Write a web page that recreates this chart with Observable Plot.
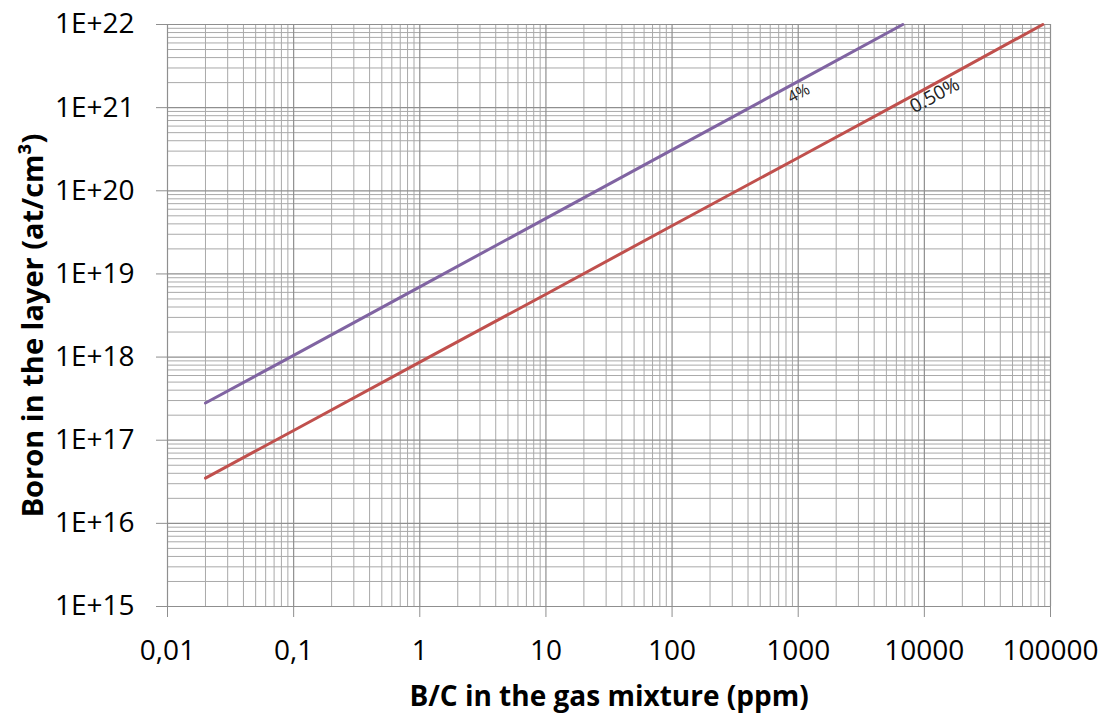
<!DOCTYPE html>
<html>
<head>
<meta charset="utf-8">
<script src="https://cdn.jsdelivr.net/npm/d3@7"></script>
<script src="https://cdn.jsdelivr.net/npm/@observablehq/plot@0.6"></script>
<style>
  html, body { margin: 0; padding: 0; background: #fff; }
  #chart { width: 1110px; height: 717px; }
</style>
</head>
<body>
<div id="chart"></div>
<script>
// ---- Data ----
const purpleX = [0.02, 0.1, 1, 10, 100, 1000, 6745];
const purpleY = [2.8e17, 1.05e18, 7.0e18, 4.66e19, 3.1e20, 2.07e21, 1e22];
const redX = [0.02, 0.1, 1, 10, 100, 1000, 10000, 86900];
const redY = [3.5e16, 1.31e17, 8.7e17, 5.7e18, 3.8e19, 2.5e20, 1.66e21, 1e22];

const xTicks = [0.01, 0.1, 1, 10, 100, 1000, 10000, 100000];
const xTickLabels = ["0,01", "0,1", "1", "10", "100", "1000", "10000", "100000"];
const yTicks = [1e15, 1e16, 1e17, 1e18, 1e19, 1e20, 1e21, 1e22];
const yTickLabels = ["1E+15", "1E+16", "1E+17", "1E+18", "1E+19", "1E+20", "1E+21", "1E+22"];

const seriesLabels = ["4%", "0.50%"];
const labelX = [1010, 12100];
const labelY = [1.48e21, 1.4e21];

const xTitle = "B/C in the gas mixture (ppm)";
const yTitle = "Boron in the layer (at/cm³)";

// minor grid positions (2..9 within each decade)
const xMinor = [];
for (let e = -2; e < 5; e++) for (let m = 2; m <= 9; m++) xMinor.push(m * Math.pow(10, e));
const yMinor = [];
for (let e = 15; e < 22; e++) for (let m = 2; m <= 9; m++) yMinor.push(m * Math.pow(10, e));

const purple = purpleX.map((x, i) => ({x, y: purpleY[i]}));
const red = redX.map((x, i) => ({x, y: redY[i]}));
const labels = seriesLabels.map((t, i) => ({t, x: labelX[i], y: labelY[i], s: i === 0 ? 16 : 19}));

const gridMinor = "#a9a9a9";
const gridMajor = "#8f8f8f";

const chart = Plot.plot({
  width: 1110,
  height: 717,
  marginLeft: 167,
  marginRight: 60,
  marginTop: 24,
  marginBottom: 111,
  style: { fontFamily: "'Open Sans', sans-serif", background: "#fff", color: "#000", overflow: "visible" },
  x: { type: "log", domain: [0.01, 100000] },
  y: { type: "log", domain: [1e15, 1e22] },
  marks: [
    Plot.ruleX(xMinor, { stroke: gridMinor, strokeWidth: 1 }),
    Plot.ruleY(yMinor, { stroke: gridMinor, strokeWidth: 1 }),
    Plot.ruleX(xTicks, { stroke: gridMajor, strokeWidth: 1.2 }),
    Plot.ruleY(yTicks, { stroke: gridMajor, strokeWidth: 1.2 }),
    Plot.axisX({
      ticks: xTicks,
      tickFormat: (d) => xTickLabels[xTicks.indexOf(d)],
      tickSize: 11, tickPadding: 23, fontSize: 28,
      stroke: gridMajor, label: null
    }),
    Plot.axisY({
      ticks: yTicks,
      tickFormat: (d) => yTickLabels[yTicks.indexOf(d)],
      tickSize: 11, tickPadding: 22, fontSize: 28,
      stroke: gridMajor, label: null
    }),
    Plot.line(purple, { x: "x", y: "y", stroke: "#8064A2", strokeWidth: 3 }),
    Plot.line(red, { x: "x", y: "y", stroke: "#C0504D", strokeWidth: 3 }),
    Plot.text(labels, { x: "x", y: "y", text: "t", fontSize: "s", rotate: -28.5, fill: "#222" }),
    Plot.text([xTitle], { frameAnchor: "bottom", lineAnchor: "middle", textAnchor: "middle", dy: 91, fontSize: 28, fontWeight: "bold" }),
    Plot.text([yTitle], { frameAnchor: "left", lineAnchor: "middle", textAnchor: "middle", dx: -134, dy: 10, rotate: -90, fontSize: 29, fontWeight: "bold" })
  ]
});
document.getElementById("chart").appendChild(chart);
</script>
</body>
</html>
